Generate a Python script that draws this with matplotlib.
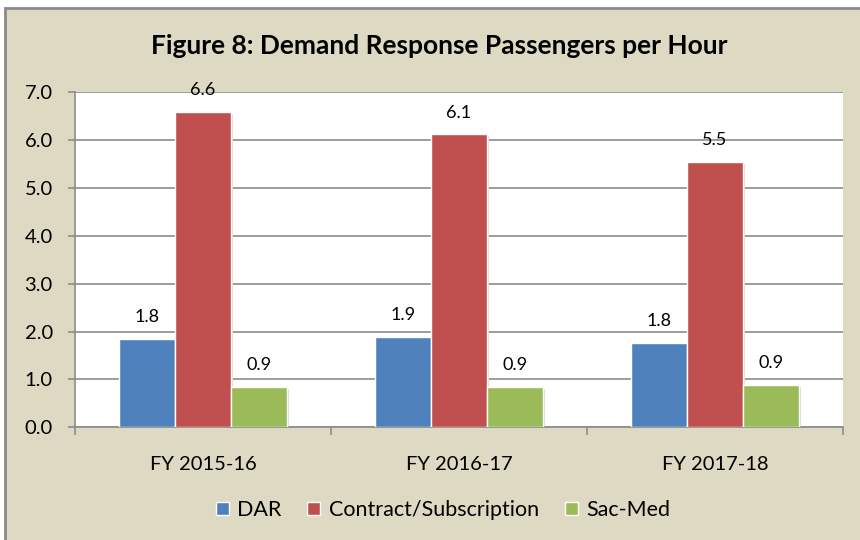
import matplotlib
matplotlib.use("Agg")
import matplotlib.pyplot as plt
import numpy as np
from matplotlib.patches import Rectangle

plt.rcParams['font.family'] = ['Lato', 'DejaVu Sans']

years = ["FY 2015-16", "FY 2016-17", "FY 2017-18"]
series = ["DAR", "Contract/Subscription", "Sac-Med"]
dar = [1.84, 1.88, 1.77]
contract = [6.59, 6.12, 5.54]
sacmed = [0.85, 0.85, 0.88]
labels_dar = ["1.8", "1.9", "1.8"]
labels_contract = ["6.6", "6.1", "5.5"]
labels_sacmed = ["0.9", "0.9", "0.9"]

colors = ["#4F81BD", "#C0504D", "#9BBB59"]
bg = "#DDD9C3"
grid_col = "#8C8C8C"

fig = plt.figure(figsize=(8.6, 5.4), dpi=100)
fig.patch.set_facecolor("white")
# outer chart frame
fig.patches.append(Rectangle((5/860, -0.1), 1.1, 1.1 - 8/540, transform=fig.transFigure,
                             facecolor=bg, edgecolor="#8A8A8A", linewidth=2, zorder=-10))

ax = fig.add_axes([75/860, 1 - 427.3/540, 768/860, 335/540])
ax.set_facecolor("white")

x = np.arange(len(years))
w = 0.219
all_vals = [dar, contract, sacmed]
all_labels = [labels_dar, labels_contract, labels_sacmed]
for i, (vals, labs) in enumerate(zip(all_vals, all_labels)):
    pos = x + (i - 1) * w
    # faint shadow
    ax.bar(pos + 0.006, vals, w, bottom=-0.04, color="#D8D8D8", zorder=2, linewidth=0)
    ax.bar(pos, vals, w, color=colors[i], edgecolor="white", linewidth=1,
           label=series[i], zorder=3)
    for p, v, t in zip(pos, vals, labs):
        ax.annotate(t, (p, v), xytext=(0, 10), textcoords="offset points",
                    ha="center", va="bottom", fontsize=13, color="black")

ax.set_ylim(0, 7)
ax.set_xlim(-0.5, 2.5)
ax.set_yticks(np.arange(0, 8, 1))
ax.set_yticklabels(["%.1f" % v for v in np.arange(0, 8, 1)], fontsize=14.5)
ax.yaxis.grid(True, color=grid_col, linewidth=1.2, zorder=0)
ax.set_axisbelow(True)

ax.set_xticks([-0.5, 0.5, 1.5, 2.5])
ax.set_xticklabels([])
ax.set_xticks(x, minor=True)
ax.set_xticklabels(years, minor=True, fontsize=14.5)
ax.tick_params(axis="x", which="major", length=6, width=1.2, color=grid_col, direction="out")
ax.tick_params(axis="x", which="minor", length=0, pad=21)
ax.tick_params(axis="y", length=5, width=1.2, color=grid_col, direction="out", pad=11)

for s in ["top", "right"]:
    ax.spines[s].set_visible(False)
for s in ["left", "bottom"]:
    ax.spines[s].set_color(grid_col)
    ax.spines[s].set_linewidth(1.2)

fig.text(439/860, 1 - 46/540, "Figure 8: Demand Response Passengers per Hour",
         ha="center", va="center", fontsize=19, fontweight="bold")

leg = ax.legend(loc="center", bbox_to_anchor=(443/860, 1 - 510/540),
                bbox_transform=fig.transFigure, ncol=3, frameon=False,
                fontsize=15.5, handlelength=0.6, handleheight=0.6,
                handletextpad=0.4, columnspacing=1.2)

fig.savefig("out.png", dpi=100, facecolor=fig.get_facecolor())
